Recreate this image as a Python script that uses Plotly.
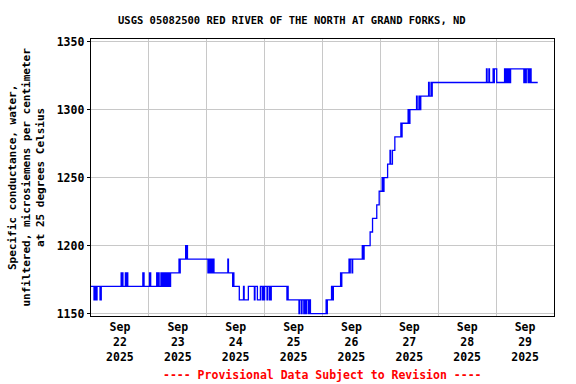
import plotly.graph_objects as go

# ---- data ----
times = [
    "2025-09-22 00:00", "2025-09-22 01:15", "2025-09-22 01:45", "2025-09-22 02:00", "2025-09-22 02:30",
    "2025-09-22 03:45", "2025-09-22 04:15", "2025-09-22 12:30", "2025-09-22 12:45", "2025-09-22 13:00",
    "2025-09-22 13:15", "2025-09-22 14:15", "2025-09-22 14:45", "2025-09-22 15:00", "2025-09-22 15:15",
    "2025-09-22 21:30", "2025-09-22 22:00",
    "2025-09-23 00:15", "2025-09-23 00:45", "2025-09-23 03:15", "2025-09-23 03:30", "2025-09-23 04:00",
    "2025-09-23 04:15", "2025-09-23 05:00", "2025-09-23 05:15", "2025-09-23 05:30", "2025-09-23 06:00",
    "2025-09-23 06:15", "2025-09-23 06:45", "2025-09-23 07:00", "2025-09-23 07:15", "2025-09-23 07:45",
    "2025-09-23 08:00", "2025-09-23 08:15", "2025-09-23 08:45", "2025-09-23 09:00", "2025-09-23 12:30",
    "2025-09-23 12:45", "2025-09-23 13:00", "2025-09-23 15:15", "2025-09-23 15:30", "2025-09-23 15:45",
    "2025-09-23 16:00",
    "2025-09-24 00:30", "2025-09-24 00:45", "2025-09-24 01:00", "2025-09-24 01:30", "2025-09-24 02:00",
    "2025-09-24 02:30", "2025-09-24 03:00", "2025-09-24 08:45", "2025-09-24 09:00", "2025-09-24 10:45",
    "2025-09-24 11:00", "2025-09-24 11:15", "2025-09-24 13:30", "2025-09-24 15:15", "2025-09-24 15:30",
    "2025-09-24 17:15", "2025-09-24 19:45", "2025-09-24 20:00", "2025-09-24 21:00", "2025-09-24 22:15",
    "2025-09-24 23:00", "2025-09-24 23:15", "2025-09-24 23:45",
    "2025-09-25 00:00", "2025-09-25 01:00", "2025-09-25 01:15", "2025-09-25 02:00", "2025-09-25 02:15",
    "2025-09-25 02:30", "2025-09-25 02:45", "2025-09-25 09:15", "2025-09-25 09:30", "2025-09-25 09:45",
    "2025-09-25 14:15", "2025-09-25 14:30", "2025-09-25 15:15", "2025-09-25 15:30", "2025-09-25 16:15",
    "2025-09-25 16:45", "2025-09-25 17:15", "2025-09-25 17:30", "2025-09-25 18:15", "2025-09-25 18:30",
    "2025-09-25 19:00",
    "2025-09-26 01:30", "2025-09-26 01:45", "2025-09-26 02:00", "2025-09-26 03:45", "2025-09-26 04:00",
    "2025-09-26 04:30", "2025-09-26 07:30", "2025-09-26 07:45", "2025-09-26 08:00", "2025-09-26 11:00",
    "2025-09-26 11:15", "2025-09-26 11:30", "2025-09-26 12:15", "2025-09-26 12:30", "2025-09-26 16:30",
    "2025-09-26 16:45", "2025-09-26 17:15", "2025-09-26 19:45", "2025-09-26 20:45", "2025-09-26 22:30",
    "2025-09-26 23:30",
    "2025-09-27 00:45", "2025-09-27 01:00", "2025-09-27 01:30", "2025-09-27 03:00", "2025-09-27 04:00",
    "2025-09-27 04:15", "2025-09-27 05:00", "2025-09-27 06:00", "2025-09-27 08:30", "2025-09-27 08:45",
    "2025-09-27 09:00", "2025-09-27 11:30", "2025-09-27 11:45", "2025-09-27 12:15", "2025-09-27 15:00",
    "2025-09-27 15:15", "2025-09-27 16:00", "2025-09-27 16:15", "2025-09-27 16:45", "2025-09-27 20:00",
    "2025-09-27 20:15", "2025-09-27 21:00", "2025-09-27 21:15", "2025-09-27 21:30",
    "2025-09-28 20:00", "2025-09-28 20:15", "2025-09-28 21:00", "2025-09-28 21:15", "2025-09-28 22:45",
    "2025-09-28 23:00", "2025-09-28 23:15",
    "2025-09-29 00:15", "2025-09-29 03:30", "2025-09-29 03:45", "2025-09-29 04:00", "2025-09-29 04:30",
    "2025-09-29 05:00", "2025-09-29 05:15", "2025-09-29 05:30", "2025-09-29 05:45", "2025-09-29 06:00",
    "2025-09-29 11:30", "2025-09-29 11:45", "2025-09-29 12:00", "2025-09-29 12:30", "2025-09-29 13:15",
    "2025-09-29 13:30", "2025-09-29 14:00", "2025-09-29 14:15", "2025-09-29 14:30", "2025-09-29 17:15",
]
values = [
    1170, 1160, 1170, 1160, 1170,
    1160, 1170, 1180, 1170, 1180,
    1170, 1180, 1170, 1180, 1170,
    1180, 1170,
    1180, 1170, 1180, 1170, 1180,
    1170, 1180, 1170, 1180, 1170,
    1180, 1170, 1180, 1170, 1180,
    1170, 1180, 1170, 1180, 1190,
    1180, 1190, 1200, 1190, 1200,
    1190,
    1180, 1190, 1180, 1190, 1180,
    1190, 1180, 1190, 1180, 1170,
    1180, 1170, 1160, 1170, 1160,
    1170, 1160, 1170, 1160, 1170,
    1160, 1170, 1160,
    1170, 1160, 1170, 1160, 1170,
    1160, 1170, 1160, 1170, 1160,
    1150, 1160, 1150, 1160, 1150,
    1160, 1150, 1160, 1150, 1160,
    1150,
    1160, 1150, 1160, 1170, 1160,
    1170, 1180, 1170, 1180, 1190,
    1180, 1190, 1180, 1190, 1200,
    1190, 1200, 1210, 1220, 1230,
    1240,
    1250, 1240, 1250, 1260, 1270,
    1260, 1270, 1280, 1290, 1280,
    1290, 1300, 1290, 1300, 1310,
    1300, 1310, 1300, 1310, 1320,
    1310, 1320, 1310, 1320,
    1330, 1320, 1330, 1320, 1330,
    1320, 1330,
    1320, 1330, 1320, 1330, 1320,
    1330, 1320, 1330, 1320, 1330,
    1320, 1330, 1320, 1330, 1320,
    1330, 1320, 1330, 1320, 1320,
]

day_labels = ["Sep<br>22<br>2025", "Sep<br>23<br>2025", "Sep<br>24<br>2025", "Sep<br>25<br>2025",
              "Sep<br>26<br>2025", "Sep<br>27<br>2025", "Sep<br>28<br>2025", "Sep<br>29<br>2025"]
label_times = ["2025-09-22 12:00", "2025-09-23 12:00", "2025-09-24 12:00", "2025-09-25 12:00",
               "2025-09-26 12:00", "2025-09-27 12:00", "2025-09-28 12:00", "2025-09-29 12:00"]
midnights = ["2025-09-23", "2025-09-24", "2025-09-25", "2025-09-26",
             "2025-09-27", "2025-09-28", "2025-09-29"]
y_ticks = [1150, 1200, 1250, 1300, 1350]

FONT = "DejaVu Sans Mono"
W, H = 576, 384
L, R, T, B = 91, 22, 39, 68

fig = go.Figure()
fig.add_trace(go.Scatter(
    x=times, y=values, mode="lines", line=dict(color="#0000ff", width=1.3, shape="hv"),
    hoverinfo="skip", showlegend=False,
))

fig.update_layout(
    width=W, height=H,
    margin=dict(l=L, r=R, t=T, b=B, autoexpand=False),
    paper_bgcolor="white", plot_bgcolor="white",
    font=dict(family=FONT, size=11, color="black", weight="bold"),
    showlegend=False,
    xaxis=dict(
        type="date", automargin=False,
        range=["2025-09-22 00:00", "2025-09-30 00:00"],
        tickmode="array", tickvals=label_times, ticktext=day_labels,
        ticks="", showgrid=False, zeroline=False,
        showline=True, linecolor="black", linewidth=1.3, mirror=True,
        tickfont=dict(family=FONT, size=11.5, color="black", weight="bold"),
        minor=dict(tickmode="array", tickvals=midnights, showgrid=True,
                   gridcolor="#c8c8c8", gridwidth=1, ticks=""),
    ),
    yaxis=dict(
        automargin=False,
        range=[1148.2, 1352],
        tickmode="array", tickvals=y_ticks,
        ticks="outside", ticklen=3, tickcolor="black",
        showgrid=True, gridcolor="#c8c8c8", gridwidth=1, zeroline=False,
        showline=True, linecolor="black", linewidth=1.3, mirror=True,
        tickfont=dict(family=FONT, size=11.5, color="black", weight="bold"),
    ),
)

fig.add_annotation(
    text="USGS 05082500 RED RIVER OF THE NORTH AT GRAND FORKS, ND",
    xref="paper", yref="paper", x=(292 - L) / (W - L - R), y=1 + (T - 20) / (H - T - B),
    xanchor="center", yanchor="middle", showarrow=False,
    font=dict(family=FONT, size=10.5, color="black", weight="bold"),
)
fig.add_annotation(
    text="Specific conductance, water,<br>unfiltered, microsiemens per centimeter<br>at 25 degrees Celsius",
    xref="paper", yref="paper", x=(26 - L) / (W - L - R), y=0.5,
    xanchor="center", yanchor="middle", textangle=-90, showarrow=False,
    font=dict(family=FONT, size=11, color="black", weight="bold"),
)
fig.add_annotation(
    text="---- Provisional Data Subject to Revision ----",
    xref="paper", yref="paper", x=0.5, y=-(375 - (H - B)) / (H - T - B),
    xanchor="center", yanchor="middle", showarrow=False,
    font=dict(family=FONT, size=11.5, color="red", weight="bold"),
)

fig.write_html(
    "out.html",
    config={"displayModeBar": False, "staticPlot": True},
    post_script="document.body.style.margin='0';document.body.style.overflow='hidden';",
)
